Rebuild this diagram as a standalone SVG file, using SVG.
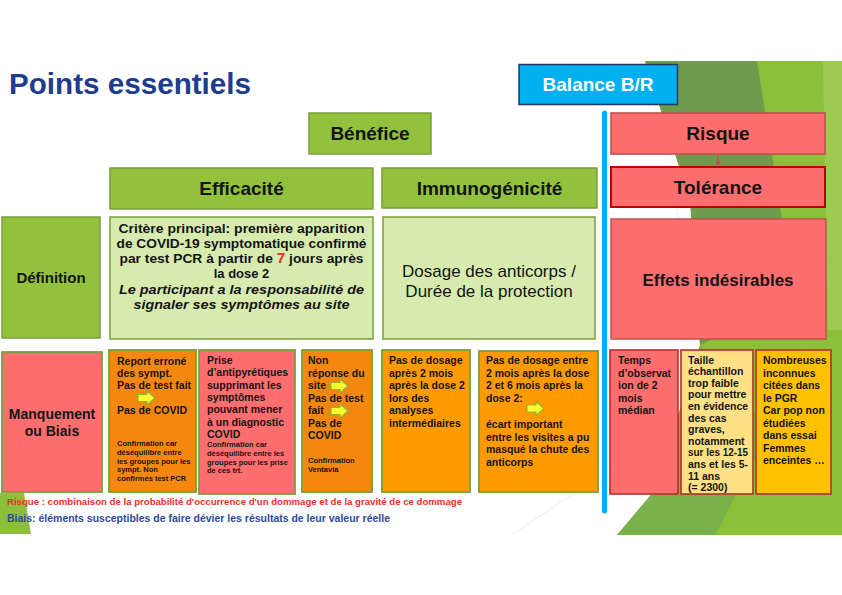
<svg xmlns="http://www.w3.org/2000/svg" width="842" height="595" viewBox="0 0 842 595">
<defs>
<style>
text { font-family: "Liberation Sans", Arial, sans-serif; fill:#141414; }
.hdr { font-size:19px; font-weight:bold; text-anchor:middle; }
.g { fill:#92C13D; stroke:#7A9E3A; stroke-width:1.5; }
.lg { fill:#D8EBAF; stroke:#7A9E3A; stroke-width:1.5; }
.sal { fill:#FF6E6E; }
.og { stroke:#7A9E3A; stroke-width:1.8; }
.rd { stroke:#B3302A; stroke-width:1.6; }
.or1 { fill:#F4870F; }
.or2 { fill:#FF9B00; }
.b { font-size:10.5px; font-weight:bold; }
.s { font-size:7.5px; font-weight:bold; }
.c { text-anchor:middle; }
</style>
<path id="arr" d="M0,-3.5 H9 V-7 L17,0 L9,7 V3.5 H0 Z" fill="#FFFF2E" stroke="#8DB33A" stroke-width="1.2"/>
<marker id="ah" markerWidth="6" markerHeight="6" refX="5" refY="3" orient="auto" markerUnits="userSpaceOnUse">
<path d="M0,0 L6,3 L0,6 Z" fill="#C0504D"/>
</marker>
</defs>

<rect width="842" height="595" fill="#FFFFFF"/>

<g id="background">
<polygon points="645,61 842,61 842,535 617,535 655,490 700,345 690,200" fill="#8CC03B"/>
<polygon points="645,61 757,61 795,300 700,345 690,200" fill="#6F9C4C"/>
<polygon points="617,535 655,490 700,345 770,430 715,535" fill="#7BB14A"/>
<polygon points="823,61 842,61 842,330 828,330" fill="#9DCB52"/>
<polygon points="0,493 24,493 31,534 0,534" fill="#8CC03B"/>
<line x1="513" y1="534" x2="622" y2="462" stroke="#E6E6E6" stroke-width="0.8"/>
<line x1="655" y1="105" x2="680" y2="225" stroke="#EDEDED" stroke-width="0.8"/>
</g>

<g id="title">
<text x="9" y="94" font-size="30" font-weight="bold" style="fill:#203C8E" textLength="242" lengthAdjust="spacingAndGlyphs">Points essentiels</text>
</g>

<g id="balance">
<rect x="519" y="64.5" width="158.5" height="40" fill="#00B0F0" stroke="#1F3864" stroke-width="1.5"/>
<text x="598" y="91" class="hdr" style="fill:#FFFFFF">Balance B/R</text>
</g>

<g id="divider">
<line x1="604.5" y1="113" x2="604.5" y2="511" stroke="#00B0F0" stroke-width="5" stroke-linecap="round"/>
</g>

<g id="benefice">
<rect x="309" y="113" width="122" height="41" class="g"/>
<text x="370" y="140" class="hdr">Bénéfice</text>
</g>

<g id="risque">
<rect x="611" y="113" width="214" height="41" class="sal rd" style="stroke:#C0504D"/>
<text x="718" y="140" class="hdr">Risque</text>
</g>

<g id="efficacite">
<rect x="110" y="168" width="263" height="41" class="g"/>
<text x="241.5" y="195" class="hdr">Efficacité</text>
</g>

<g id="immunogenicite">
<rect x="382" y="168" width="215" height="40" class="g"/>
<text x="489.5" y="195" class="hdr">Immunogénicité</text>
</g>

<g id="tolerance">
<rect x="611" y="167" width="214" height="40" class="sal" style="stroke:#C00000;stroke-width:2"/>
<text x="718" y="194" class="hdr">Tolérance</text>
</g>

<g id="definition">
<rect x="2" y="217" width="98" height="121" class="g"/>
<text x="51" y="283" class="c" font-size="15" font-weight="bold">Définition</text>
</g>

<g id="critere">
<rect x="110" y="217" width="263" height="122" class="lg"/>
<g class="c" font-size="13" font-weight="bold">
<text x="241.5" y="233" textLength="246" lengthAdjust="spacingAndGlyphs">Critère principal: première apparition</text>
<text x="241.5" y="248" textLength="250" lengthAdjust="spacingAndGlyphs">de COVID-19 symptomatique confirmé</text>
<text x="241.5" y="263" textLength="244" lengthAdjust="spacingAndGlyphs">par test PCR à partir de <tspan style="fill:#E8302A" font-size="14.5">7</tspan> jours après</text>
<text x="241.5" y="278">la dose 2</text>
<text x="241.5" y="293.5" font-style="italic" textLength="245" lengthAdjust="spacingAndGlyphs">Le participant a la responsabilité de</text>
<text x="241.5" y="308.5" font-style="italic" textLength="216" lengthAdjust="spacingAndGlyphs">signaler ses symptômes au site</text>
</g>
</g>

<g id="dosage">
<rect x="383" y="217" width="212" height="122" class="lg"/>
<text x="489" y="277" class="c" font-size="17">Dosage des anticorps /</text>
<text x="489" y="297" class="c" font-size="17">Durée de la protection</text>
</g>

<g id="effets">
<rect x="611" y="219" width="215" height="120" class="sal" style="stroke:#C0504D;stroke-width:1.5"/>
<text x="718" y="286" class="c" font-size="17" font-weight="bold">Effets indésirables</text>
</g>

<g id="manquement">
<rect x="2" y="352" width="100" height="140" class="sal og"/>
<text x="52" y="419" class="c" font-size="14" font-weight="bold">Manquement</text>
<text x="52" y="436" class="c" font-size="14" font-weight="bold">ou Biais</text>
</g>

<g id="report">
<rect x="109" y="350" width="87" height="142" class="or1 og"/>
<text class="b" x="117" y="365">Report erroné</text>
<text class="b" x="117" y="377">des sympt.</text>
<text class="b" x="117" y="389">Pas de test fait</text>
<use href="#arr" x="138" y="398"/>
<text class="b" x="117" y="414">Pas de COVID</text>
<text class="s" x="117" y="446">Confirmation car</text>
<text class="s" x="117" y="455">déséquilibre entre</text>
<text class="s" x="117" y="463.5">les groupes pour les</text>
<text class="s" x="117" y="472">sympt. Non</text>
<text class="s" x="117" y="480.5">confirmés test PCR</text>
</g>

<g id="prise">
<rect x="199" y="350" width="96" height="144" class="sal og"/>
<text class="b" x="207" y="364">Prise</text>
<text class="b" x="207" y="376.3">d’antipyrétiques</text>
<text class="b" x="207" y="388.6">supprimant les</text>
<text class="b" x="207" y="400.9">symptômes</text>
<text class="b" x="207" y="413.2">pouvant mener</text>
<text class="b" x="207" y="425.5">à un diagnostic</text>
<text class="b" x="207" y="437.8">COVID</text>
<text class="s" x="207" y="447">Confirmation car</text>
<text class="s" x="207" y="456">déséquilibre entre les</text>
<text class="s" x="207" y="464.5">groupes pour les prise</text>
<text class="s" x="207" y="473">de ces trt.</text>
</g>

<g id="nonreponse">
<rect x="302" y="350" width="70" height="142" class="or1 og"/>
<text class="b" x="308" y="364">Non</text>
<text class="b" x="308" y="376.5">réponse du</text>
<text class="b" x="308" y="389">site</text>
<use href="#arr" x="331" y="386"/>
<text class="b" x="308" y="401.5">Pas de test</text>
<text class="b" x="308" y="414">fait</text>
<use href="#arr" x="331" y="411"/>
<text class="b" x="308" y="426.5">Pas de</text>
<text class="b" x="308" y="439">COVID</text>
<text class="s" x="308" y="463">Confirmation</text>
<text class="s" x="308" y="472">Ventavia</text>
</g>

<g id="pasdosage">
<rect x="382" y="350" width="88" height="142" class="or2 og"/>
<text class="b" x="389" y="364">Pas de dosage</text>
<text class="b" x="389" y="376.5">après 2 mois</text>
<text class="b" x="389" y="389">après la dose 2</text>
<text class="b" x="389" y="401.5">lors des</text>
<text class="b" x="389" y="414">analyses</text>
<text class="b" x="389" y="426.5">intermédiaires</text>
</g>

<g id="pasdosageentre">
<rect x="479" y="351" width="119" height="141" class="or2 og"/>
<text class="b" x="486" y="364">Pas de dosage entre</text>
<text class="b" x="486" y="376.5">2 mois après la dose</text>
<text class="b" x="486" y="389">2 et 6 mois après la</text>
<text class="b" x="486" y="401.5">dose 2:</text>
<use href="#arr" x="527" y="408.5"/>
<text class="b" x="486" y="428">écart important</text>
<text class="b" x="486" y="440.5">entre les visites a pu</text>
<text class="b" x="486" y="453">masqué la chute des</text>
<text class="b" x="486" y="465.5">anticorps</text>
</g>

<g id="temps">
<rect x="610" y="350" width="68" height="144" class="sal rd"/>
<text class="b" x="618" y="364">Temps</text>
<text class="b" x="618" y="376.5">d’observat</text>
<text class="b" x="618" y="389">ion de 2</text>
<text class="b" x="618" y="401.5">mois</text>
<text class="b" x="618" y="414">médian</text>
</g>

<g id="taille">
<rect x="681" y="350" width="72" height="144" fill="#FFE084" class="rd"/>
<text class="b" x="688" y="363.5">Taille</text>
<text class="b" x="688" y="375.1">échantillon</text>
<text class="b" x="688" y="386.7">trop faible</text>
<text class="b" x="688" y="398.3">pour mettre</text>
<text class="b" x="688" y="409.9">en évidence</text>
<text class="b" x="688" y="421.5">des cas</text>
<text class="b" x="688" y="433.1">graves,</text>
<text class="b" x="688" y="444.7">notamment</text>
<text class="b" x="688" y="456.3" textLength="60" lengthAdjust="spacingAndGlyphs">sur les 12-15</text>
<text class="b" x="688" y="467.9">ans et les 5-</text>
<text class="b" x="688" y="479.5">11 ans</text>
<text class="b" x="688" y="491">(= 2300)</text>
</g>

<g id="nombreuses">
<rect x="756" y="350" width="75" height="144" fill="#FFC000" class="rd"/>
<text class="b" x="763" y="364">Nombreuses</text>
<text class="b" x="763" y="376.5">inconnues</text>
<text class="b" x="763" y="389">citées dans</text>
<text class="b" x="763" y="401.5">le PGR</text>
<text class="b" x="763" y="414">Car pop non</text>
<text class="b" x="763" y="426.5">étudiées</text>
<text class="b" x="763" y="439">dans essai</text>
<text class="b" x="763" y="451.5">Femmes</text>
<text class="b" x="763" y="464">enceintes …</text>
</g>

<g id="connectors">
<line x1="718" y1="154.5" x2="718" y2="166" stroke="#C0504D" stroke-width="1.2" marker-end="url(#ah)"/>
</g>

<g id="footer">
<text x="7" y="505" font-size="9.5" font-weight="bold" style="fill:#E8302A" textLength="455" lengthAdjust="spacingAndGlyphs">Risque : combinaison de la probabilité d'occurrence d'un dommage et de la gravité de ce dommage</text>
<text x="7" y="522" font-size="10" font-weight="bold" style="fill:#2E4A9A" textLength="383" lengthAdjust="spacingAndGlyphs">Biais: éléments susceptibles de faire dévier les résultats de leur valeur réelle</text>
</g>
</svg>
